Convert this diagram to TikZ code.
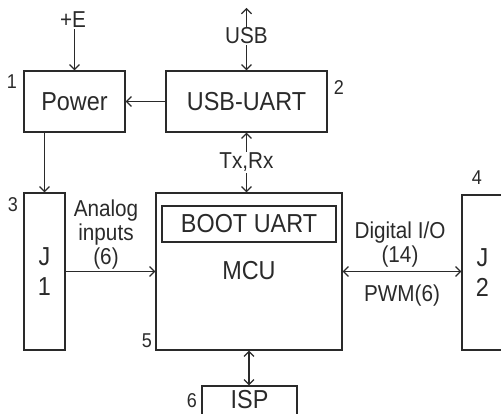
\documentclass[tikz,border=0pt]{standalone}
\usepackage{fontspec}
\setmainfont{Liberation Sans}[FakeStretch=0.9]
\usetikzlibrary{arrows.meta}
\definecolor{ink}{HTML}{2A2A2A}
\tikzset{
  blk/.style={draw=ink, line width=1.2pt, rectangle, inner sep=0pt, text=ink,
    font=\fontsize{26}{30}\selectfont, align=center},
  lbl/.style={inner sep=1pt, text=ink, font=\fontsize{23}{24}\selectfont, align=center},
  num/.style={inner sep=0pt, text=ink, font=\fontsize{20}{24}\selectfont, text height=14pt, text depth=0pt},
  conn/.style={draw=ink, line width=1.2pt}
}
\begin{document}
\begin{tikzpicture}[x=1pt,y=-1pt, >={Straight Barb[length=5pt,width=10pt]}]
\useasboundingbox (0,0) rectangle (501,414);
\clip (0,0) rectangle (501,414);
% boxes
\node[blk, minimum width=101pt, minimum height=61pt] (power) at (74.5,101.5) {Power};
\node[blk, minimum width=161pt, minimum height=61pt] (uart) at (246.5,101.5) {USB-UART};
\node[blk, minimum width=41pt, minimum height=157pt] (j1) at (44.5,271.5) {J\\1};
\node[blk, minimum width=186pt, minimum height=157pt] (mcu) at (249,271.5) {};
\node[blk, minimum width=174pt, minimum height=36pt] (boot) at (249,224) {BOOT UART};
\node[lbl, font=\fontsize{26}{30}\selectfont, text height=18.5pt, text depth=0pt, inner sep=0pt] (mcutext) at (249,270) {MCU};
\node[blk, minimum width=41pt, minimum height=155pt] (j2) at (482.5,272.5) {J\\2};
\node[blk, minimum width=95pt, minimum height=48pt] (isp) at (249.5,410) {};
\node[lbl, font=\fontsize{26}{30}\selectfont, text height=18.5pt, text depth=0pt, inner sep=0pt] (isptext) at (249.5,399) {ISP};
% numbers
\node[num] (n1) at (12,82) {1};
\node[num] (n2) at (339,88) {2};
\node[num] (n3) at (13,205) {3};
\node[num] (n4) at (477,178) {4};
\node[num] (n5) at (147,340) {5};
\node[num] (n6) at (192,400) {6};
% connectors
\node[lbl, text height=16pt, text depth=0pt] (plusE) at (73,20) {+E};
\draw[conn, ->] (plusE.south -| power.north) -- (power.north);
\coordinate (usbtop) at (246.5,8);
\draw[conn, <->] (usbtop) -- node[lbl, fill=white, pos=0.45] (usblbl) {USB} (usbtop |- uart.north);
\draw[conn, <->] (uart.south) -- node[lbl, fill=white] (txrx) {Tx,Rx} (uart.south |- mcu.north);
\draw[conn, ->] (uart.west) -- (power.east);
\draw[conn, ->] (power.south -| j1.north) -- (j1.north);
\draw[conn, ->] (j1.east) -- (j1.east -| mcu.west);
\draw[conn, <->] (mcu.east) -- (mcu.east -| j2.west);
\draw[conn, <->] (mcu.south) -- (mcu.south |- isp.north);
% labels
\node[lbl] (analog) at (106,235) {Analog\\inputs\\(6)};
\node[lbl] (digital) at (400,245) {Digital I/O\\(14)};
\node[lbl] (pwm) at (402,296) {PWM(6)};
\end{tikzpicture}
\end{document}
